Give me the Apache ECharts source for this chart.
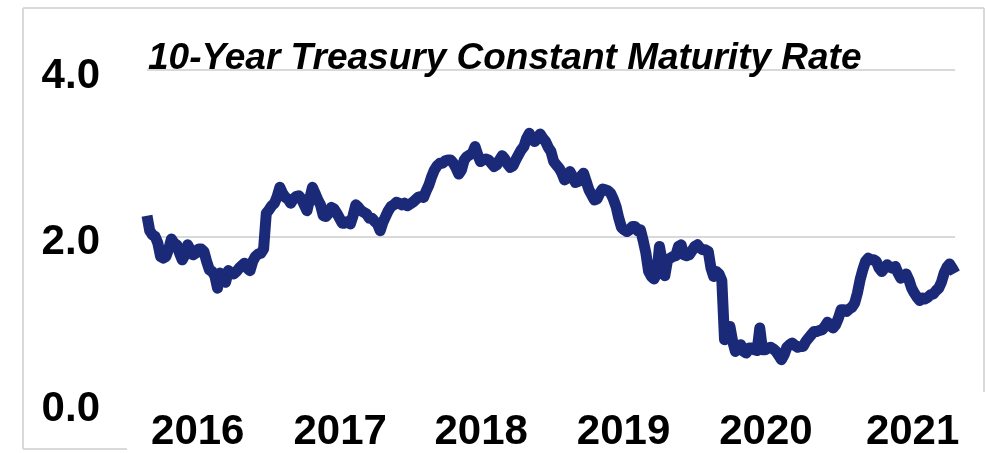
<!DOCTYPE html>
<html lang="en">
<head>
<meta charset="UTF-8">
<title>10-Year Treasury Constant Maturity Rate</title>
<script src="https://cdn.jsdelivr.net/npm/echarts@6.0.0/dist/echarts.min.js"></script>
<style>
    html, body { margin: 0; padding: 0; background: #fff; }
    #main { width: 987px; height: 453px; }
</style>
</head>
<body>
<div id="main"></div>
<script>
// weekly 10-year yield (%), one array per year
var rate2016 = [2.25,2.07,2.02,2.00,1.92,1.76,1.74,1.76,1.85,1.97, 1.92,1.90,1.80,1.72,1.78,1.90,1.84,1.78,1.80,1.85,
                1.85,1.82,1.70,1.60,1.58,1.53,1.38,1.56,1.52,1.45, 1.59,1.56,1.55,1.58,1.62,1.65,1.68,1.62,1.59,1.70,
                1.76,1.79,1.80,1.85,2.28,2.32,2.37,2.40,2.48,2.59, 2.52,2.47];
var rate2017 = [2.45,2.40,2.45,2.48,2.49,2.45,2.38,2.31,2.45,2.59, 2.52,2.44,2.38,2.25,2.24,2.28,2.35,2.33,2.28,2.22,
                2.16,2.16,2.18,2.15,2.25,2.38,2.35,2.31,2.29,2.27, 2.22,2.22,2.18,2.15,2.07,2.17,2.24,2.31,2.36,2.38,
                2.41,2.40,2.38,2.40,2.37,2.39,2.41,2.44,2.47,2.48, 2.47,2.55];
var rate2018 = [2.62,2.72,2.80,2.85,2.88,2.88,2.91,2.92,2.92,2.88, 2.82,2.75,2.80,2.92,2.96,2.98,3.00,3.08,2.98,2.90,
                2.92,2.93,2.92,2.88,2.84,2.86,2.92,2.97,2.93,2.87, 2.83,2.85,2.92,2.98,3.04,3.08,3.18,3.24,3.17,3.14,
                3.18,3.23,3.18,3.14,3.07,3.02,2.90,2.86,2.82,2.76, 2.68,2.70];
var rate2019 = [2.78,2.72,2.65,2.66,2.72,2.76,2.66,2.56,2.50,2.44, 2.45,2.52,2.57,2.56,2.55,2.52,2.45,2.36,2.22,2.11,
                2.08,2.06,2.08,2.12,2.12,2.07,2.08,1.95,1.80,1.58, 1.52,1.49,1.55,1.88,1.70,1.53,1.72,1.74,1.76,1.77,
                1.88,1.90,1.78,1.77,1.78,1.83,1.88,1.90,1.86,1.84, 1.84,1.82];
var rate2020 = [1.62,1.52,1.58,1.55,1.47,0.76,0.84,0.92,0.74,0.62, 0.66,0.70,0.62,0.60,0.66,0.66,0.64,0.63,0.90,0.64,
                0.64,0.66,0.67,0.65,0.62,0.57,0.52,0.58,0.67,0.70, 0.72,0.69,0.67,0.68,0.68,0.74,0.78,0.82,0.86,0.86,
                0.87,0.88,0.92,0.97,0.93,0.90,0.94,1.02,1.12,1.12, 1.10,1.13];
var rate2021 = [1.15,1.20,1.32,1.48,1.60,1.70,1.74,1.72,1.72,1.70, 1.62,1.58,1.62,1.66,1.63,1.62,1.64,1.56,1.50,1.52,
                1.55,1.48,1.38,1.32,1.27,1.23,1.26,1.25,1.27,1.30, 1.31,1.35,1.38,1.45,1.56,1.63,1.67,1.62,1.56];

var years = [2016, 2017, 2018, 2019, 2020, 2021];
// where the year labels sit on the time scale
var yearLabelPos = [2016.36, 2017.37, 2018.37, 2019.38, 2020.39, 2021.43];

var allRates = [rate2016, rate2017, rate2018, rate2019, rate2020, rate2021];
var data = [];
for (var i = 0; i < allRates.length; i++) {
    for (var w = 0; w < allRates[i].length; w++) {
        data.push([years[i] + w / 52, allRates[i][w]]);
    }
}

var gray = '#d9d9d9';
var myChart = echarts.init(document.getElementById('main'));
var option = {
    animation: false,
    backgroundColor: '#fff',
    title: {
        text: '10-Year Treasury Constant Maturity Rate',
        left: 143,
        top: 35,
        textStyle: {
            fontFamily: 'Liberation Sans',
            fontStyle: 'italic',
            fontWeight: 'bold',
            fontSize: 37,
            color: '#000'
        }
    },
    grid: { left: 147, right: 32, top: 70, bottom: 35 },
    xAxis: {
        type: 'value',
        min: 2016,
        max: 'dataMax',
        axisLine: { show: false },
        axisTick: { show: false },
        splitLine: { show: false },
        axisLabel: {
            customValues: yearLabelPos,
            formatter: function (v) { return String(Math.floor(v)); },
            margin: 8,
            fontFamily: 'Liberation Sans',
            fontWeight: 'bold',
            fontSize: 42,
            color: '#000'
        }
    },
    yAxis: {
        type: 'value',
        min: 0,
        max: 4,
        interval: 2,
        axisLine: { show: false },
        axisTick: { show: false },
        splitLine: { showMinLine: false, lineStyle: { color: gray, width: 2 } },
        axisLabel: {
            formatter: function (v) { return v.toFixed(1); },
            margin: 47,
            verticalAlign: 'top',
            lineHeight: 12,
            fontFamily: 'Liberation Sans',
            fontWeight: 'bold',
            fontSize: 42,
            color: '#000'
        }
    },
    graphic: [
        { type: 'line', shape: { x1: 23, y1: 8, x2: 984, y2: 8 }, style: { stroke: gray, lineWidth: 2 } },
        { type: 'line', shape: { x1: 23, y1: 8, x2: 23, y2: 449 }, style: { stroke: gray, lineWidth: 2 } },
        { type: 'line', shape: { x1: 23, y1: 449, x2: 127, y2: 449 }, style: { stroke: gray, lineWidth: 2 } },
        { type: 'line', shape: { x1: 984, y1: 8, x2: 984, y2: 392 }, style: { stroke: gray, lineWidth: 2 } }
    ],
    series: [{
        type: 'line',
        data: data,
        showSymbol: false,
        lineStyle: { color: '#1b2a78', width: 11, cap: 'butt', join: 'round' }
    }]
};
myChart.setOption(option);
</script>
</body>
</html>
